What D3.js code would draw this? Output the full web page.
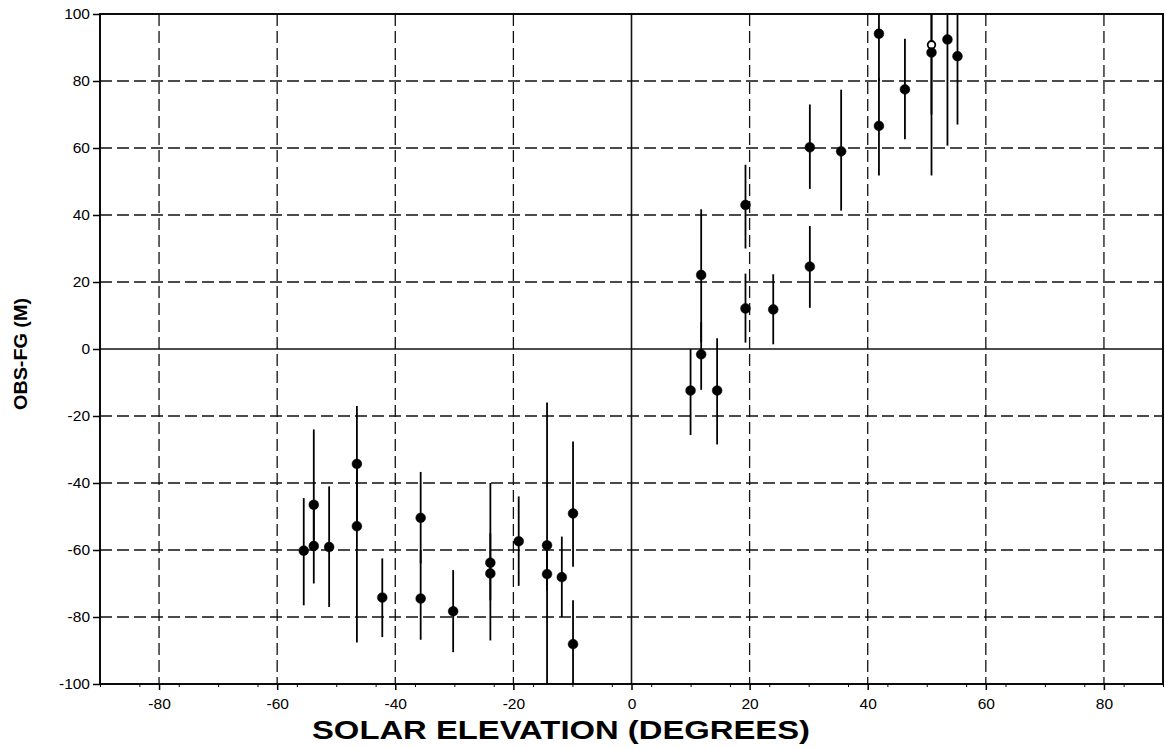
<!DOCTYPE html>
<html>
<head>
<meta charset="utf-8">
<script src="https://cdn.jsdelivr.net/npm/d3@7"></script>
<style>
  body { margin: 0; background: #fff; }
  svg { display: block; font-family: "Liberation Sans", Arial, Helvetica, sans-serif; }
</style>
</head>
<body>
<script>
// solar elevation (deg) of each observation
var elevation = [-55.5, -53.8, -53.8, -51.2, -46.5, -46.5, -42.2, -35.7, -35.7, -30.2,
                 -23.9, -23.9, -19.1, -14.3, -14.3, -11.8, -9.9, -9.9,
                 10.0, 11.8, 11.8, 14.5, 19.3, 19.3, 24.0, 30.2, 30.2, 35.5,
                 41.9, 41.9, 46.3, 50.8, 50.8, 53.5, 55.2];
// mean obs - first guess (m)
var obsFg = [-60.2, -46.5, -58.8, -59.1, -34.3, -52.9, -74.2, -50.4, -74.5, -78.3,
             -63.8, -67.0, -57.4, -58.6, -67.2, -68.1, -49.1, -88.1,
             -12.4, 22.1, -1.6, -12.4, 43.0, 12.1, 11.8, 24.6, 60.2, 59.0,
             94.1, 66.6, 77.5, 90.8, 88.5, 92.4, 87.4];
// error bar ends
var barLow = [-76.5, -58, -70, -77, -52, -87.6, -86, -64, -86.8, -90.5,
              -75, -87, -70.7, -72, -100, -80, -65, -100,
              -25.7, 2, -12.2, -28.5, 30, 1.9, 1.4, 12.3, 47.8, 41.3,
              80, 51.8, 62.6, 70, 51.8, 60.7, 67];
var barHigh = [-44.5, -24, -47, -41, -17, -34, -62.5, -36.7, -60, -66,
               -40, -55, -44, -16, -60, -56, -27.6, -75,
               0, 41.7, 8, 3.2, 55, 22.5, 22.3, 36.7, 73, 77.4,
               100, 81, 92.6, 100, 100, 100, 100];
// one hollow marker in the picture
var hollow = [false, false, false, false, false, false, false, false, false, false,
              false, false, false, false, false, false, false, false,
              false, false, false, false, false, false, false, false, false, false,
              false, false, false, true, false, false, false];

var xTicks = [-80, -60, -40, -20, 0, 20, 40, 60, 80];
var yTicks = [-100, -80, -60, -40, -20, 0, 20, 40, 60, 80, 100];

var W = 1165, H = 748;
var plotLeft = 100, plotRight = 1163, plotTop = 14, plotBottom = 684;

var x = d3.scaleLinear().domain([-90, 90]).range([plotLeft, plotRight]);
var y = d3.scaleLinear().domain([-100, 100]).range([plotBottom, plotTop]);

var label = function(d) { return String(d); };

var svg = d3.select('body').append('svg')
  .attr('width', W)
  .attr('height', H);

var points = elevation.map(function(e, i) {
  return { x: e, y: obsFg[i], lo: barLow[i], hi: barHigh[i], open: hollow[i] };
});

// dashed grid, zero lines solid
svg.append('g').selectAll('line').data(xTicks)
  .enter().append('line')
  .attr('x1', function(d) { return x(d); })
  .attr('x2', function(d) { return x(d); })
  .attr('y1', plotTop)
  .attr('y2', plotBottom)
  .attr('stroke', '#111')
  .attr('stroke-width', function(d) { return d === 0 ? 1.6 : 1.3; })
  .attr('stroke-dasharray', function(d) { return d === 0 ? null : '12,5'; });

svg.append('g').selectAll('line').data(yTicks.filter(function(d) { return d > -100 && d < 100; }))
  .enter().append('line')
  .attr('x1', plotLeft)
  .attr('x2', plotRight)
  .attr('y1', function(d) { return y(d); })
  .attr('y2', function(d) { return y(d); })
  .attr('stroke', '#111')
  .attr('stroke-width', function(d) { return d === 0 ? 1.6 : 1.3; })
  .attr('stroke-dasharray', function(d) { return d === 0 ? null : '12,5'; });

// frame
svg.append('rect')
  .attr('x', plotLeft)
  .attr('y', plotTop)
  .attr('width', plotRight - plotLeft)
  .attr('height', plotBottom - plotTop)
  .attr('fill', 'none')
  .attr('stroke', '#000')
  .attr('stroke-width', 1.9);

// axes
var xMinor = d3.range(-90, 90.01, 20 / 3).map(function(d) { return Math.round(d * 100) / 100; });
svg.append('g')
  .attr('transform', 'translate(0,' + plotBottom + ')')
  .call(d3.axisBottom(x).tickValues(xMinor).tickSize(3).tickFormat(''))
  .call(function(g) { g.select('.domain').remove(); });

var xAxis = svg.append('g')
  .attr('transform', 'translate(0,' + plotBottom + ')')
  .call(d3.axisBottom(x).tickValues(xTicks).tickSize(6).tickPadding(8).tickFormat(label));
xAxis.select('.domain').remove();
xAxis.selectAll('text').attr('font-size', 15.5).attr('fill', '#000').attr('font-family', 'inherit');
xAxis.selectAll('line').attr('stroke-width', 1.5);

var yAxis = svg.append('g')
  .attr('transform', 'translate(' + plotLeft + ',0)')
  .call(d3.axisLeft(y).tickValues(yTicks).tickSize(7).tickPadding(3).tickFormat(label));
yAxis.select('.domain').remove();
yAxis.selectAll('text').attr('font-size', 15.5).attr('fill', '#000').attr('font-family', 'inherit');
yAxis.selectAll('line').attr('stroke-width', 1.5);

// error bars
svg.append('g').selectAll('line').data(points)
  .enter().append('line')
  .attr('x1', function(d) { return x(d.x); })
  .attr('x2', function(d) { return x(d.x); })
  .attr('y1', function(d) { return y(d.lo); })
  .attr('y2', function(d) { return y(d.hi); })
  .attr('stroke', '#000')
  .attr('stroke-width', 1.8);

// markers
svg.append('g').selectAll('circle').data(points)
  .enter().append('circle')
  .attr('cx', function(d) { return x(d.x); })
  .attr('cy', function(d) { return y(d.y); })
  .attr('r', function(d) { return d.open ? 3.8 : 4.9; })
  .attr('fill', function(d) { return d.open ? '#fff' : '#000'; })
  .attr('stroke', '#000')
  .attr('stroke-width', function(d) { return d.open ? 1.8 : 0.5; });

// titles
svg.append('text')
  .attr('x', 561)
  .attr('y', 739)
  .attr('text-anchor', 'middle')
  .attr('font-size', 25)
  .attr('font-weight', 'bold')
  .attr('textLength', 498)
  .attr('lengthAdjust', 'spacingAndGlyphs')
  .text('SOLAR ELEVATION (DEGREES)');

svg.append('text')
  .attr('transform', 'translate(27,354) rotate(-90)')
  .attr('text-anchor', 'middle')
  .attr('font-size', 19)
  .attr('font-weight', 'bold')
  .attr('textLength', 112)
  .attr('lengthAdjust', 'spacingAndGlyphs')
  .text('OBS-FG (M)');
</script>
</body>
</html>
